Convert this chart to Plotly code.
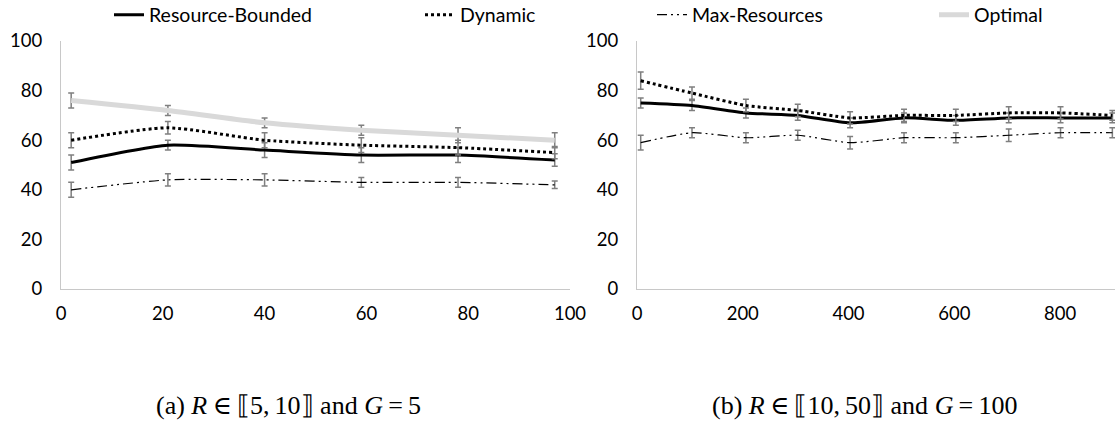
import plotly.graph_objects as go

# ---- data (a) ----
a_x = [2, 21, 40, 59, 78, 97]
a_rb = [51, 58, 56, 54, 54, 52]
a_dyn = [60, 65, 60, 58, 57, 55]
a_max = [40, 44, 44, 43, 43, 42]
a_opt = [76, 72, 67, 64, 62, 60]
a_rb_err = [3, 2, 3, 3, 3, 2.5]
a_dyn_err = [3, 2.5, 3, 3, 3, 2.5]
a_max_err = [3, 2.5, 2.5, 2, 2, 1.5]
a_opt_err = [3, 2, 2, 2, 3, 3]

# ---- data (b) ----
b_x = [7, 104, 206, 304, 403, 505, 603, 703, 801, 899]
b_rb = [75, 74, 71, 70, 67, 69, 68, 69, 69, 69]
b_dyn = [84, 79, 74, 72, 69, 70, 70, 71, 71, 70]
b_max = [59, 63, 61, 62, 59, 61, 61, 62, 63, 63]
b_rb_err = [2, 2, 2, 2, 2, 2, 2, 2, 2, 2]
b_dyn_err = [3.5, 2.5, 2.5, 2.5, 2.5, 2.5, 2.5, 2.5, 2.5, 2]
b_max_err = [3, 2, 2, 2, 2.5, 2, 2, 2.5, 2, 2]

a_xticks = [0, 20, 40, 60, 80, 100]
b_xticks = [0, 200, 400, 600, 800]
yticks = [0, 20, 40, 60, 80, 100]

names = ["Resource-Bounded", "Dynamic", "Max-Resources", "Optimal"]
ERR_COLOR = "#7f7f7f"
FONT = "Lato, Open Sans, sans-serif"

def err(vals):
    return dict(type="data", array=vals, visible=True, color=ERR_COLOR,
                thickness=1.5, width=3)

styles = {
    "Resource-Bounded": dict(color="black", width=3, dash="solid"),
    "Dynamic": dict(color="black", width=3, dash="dot"),
    "Max-Resources": dict(color="black", width=1.2, dash="10px,4px,2px,4px,2px,4px"),
    "Optimal": dict(color="#d9d9d9", width=5, dash="solid"),
}
legend_ids = {"Resource-Bounded": "legend", "Dynamic": "legend2",
              "Max-Resources": "legend3", "Optimal": "legend4"}

fig = go.Figure()

a_series = [("Optimal", a_opt, a_opt_err), ("Max-Resources", a_max, a_max_err),
            ("Resource-Bounded", a_rb, a_rb_err), ("Dynamic", a_dyn, a_dyn_err)]
for name, vals, e in a_series:
    fig.add_trace(go.Scatter(
        x=a_x, y=vals, mode="lines", name=name, line=dict(shape="spline", smoothing=0.6, **styles[name]),
        error_y=err(e), xaxis="x", yaxis="y", legend=legend_ids[name], showlegend=True))

b_series = [("Max-Resources", b_max, b_max_err), ("Resource-Bounded", b_rb, b_rb_err),
            ("Dynamic", b_dyn, b_dyn_err)]
for name, vals, e in b_series:
    fig.add_trace(go.Scatter(
        x=b_x, y=vals, mode="lines", name=name, line=dict(shape="spline", smoothing=0.6, **styles[name]),
        error_y=err(e), xaxis="x2", yaxis="y2", showlegend=False))

W, H = 1115, 427
def px(x):
    return x / W
def py(y):
    return 1 - y / H

axis_common = dict(showline=True, linecolor="#c8c8c8", linewidth=1.3, showgrid=False,
                   zeroline=False, ticks="", tickfont=dict(family=FONT, size=18.5, color="black"))

fig.update_layout(
    width=W, height=H,
    margin=dict(l=0, r=0, t=0, b=0, autoexpand=False),
    paper_bgcolor="white", plot_bgcolor="white",
    font=dict(family=FONT, color="black"),
    xaxis=dict(domain=[px(61), px(570)], range=[0, 100], tickvals=a_xticks,
               anchor="y", ticklabelstandoff=8, automargin=False, **axis_common),
    yaxis=dict(domain=[py(289), py(41)], range=[0, 100], tickvals=yticks,
               anchor="x", ticklabelstandoff=14, automargin=False, **axis_common),
    xaxis2=dict(domain=[px(637), 1.0], range=[0, 904], tickvals=b_xticks,
                anchor="y2", ticklabelstandoff=8, automargin=False, **axis_common),
    yaxis2=dict(domain=[py(289), py(41)], range=[0, 100], tickvals=yticks,
                anchor="x2", ticklabelstandoff=14, automargin=False, **axis_common),
)

leg_common = dict(orientation="h", yanchor="middle", xanchor="left", y=py(15),
                  bgcolor="rgba(0,0,0,0)", font=dict(family=FONT, size=19.5, color="black"),
                  itemwidth=30, tracegroupgap=0)
fig.update_layout(
    legend=dict(x=px(109), **leg_common),
    legend2=dict(x=px(420), **leg_common),
    legend3=dict(x=px(652), **leg_common),
    legend4=dict(x=px(934), **leg_common),
)

SERIF = "Liberation Serif, DejaVu Serif, serif"
fig.add_annotation(x=px(288), y=py(405), xref="paper", yref="paper", showarrow=False,
                   xanchor="center", yanchor="middle",
                   text="(a) <i>R</i>\u2009∈\u2009⟦5,\u200910⟧ and <i>G</i>\u2009=\u20095",
                   font=dict(family=SERIF, size=26, color="black"))
fig.add_annotation(x=px(864), y=py(405), xref="paper", yref="paper", showarrow=False,
                   xanchor="center", yanchor="middle",
                   text="(b) <i>R</i>\u2009∈\u2009⟦10,\u200950⟧ and <i>G</i>\u2009=\u2009100",
                   font=dict(family=SERIF, size=26, color="black"))

fig.write_html("out.html")
